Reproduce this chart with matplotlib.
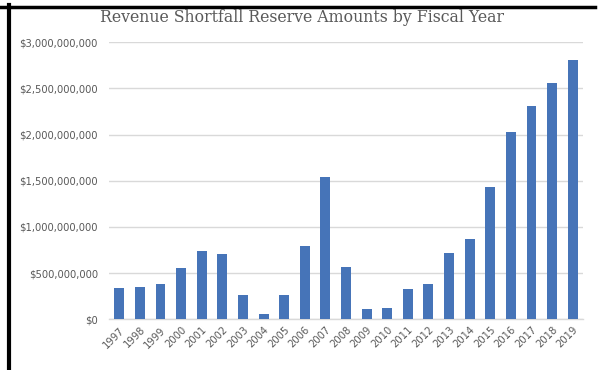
import matplotlib
matplotlib.use("Agg")
import matplotlib.pyplot as plt
from matplotlib.lines import Line2D
from matplotlib.ticker import FuncFormatter, MultipleLocator

# Fiscal years and reserve amounts (dollars)
years = [str(y) for y in range(1997, 2020)]
amounts = [336e6, 353e6, 382e6, 552e6, 736e6, 704e6, 263e6, 54e6, 260e6,
           794e6, 1544e6, 570e6, 108e6, 119e6, 332e6, 382e6, 722e6, 866e6,
           1436e6, 2032e6, 2310e6, 2556e6, 2808e6]

fig = plt.figure(figsize=(6.01, 3.70), dpi=100)
ax = fig.add_axes([109/601, 1 - 319.3/370, (583 - 109)/601, (319.3 - 42.3)/370])

x = range(len(years))
ax.bar(x, amounts, width=0.48, color="#4674B8", zorder=3)

ax.set_xlim(-0.5, len(years) - 0.5)
ax.set_ylim(0, 3e9)
ax.yaxis.set_major_locator(MultipleLocator(5e8))
ax.yaxis.set_major_formatter(FuncFormatter(lambda v, p: "${:,.0f}".format(v)))
ax.grid(axis="y", color="#d9d9d9", linewidth=1.0, zorder=0)

for s in ["top", "right", "left"]:
    ax.spines[s].set_visible(False)
ax.spines["bottom"].set_color("#d9d9d9")
ax.spines["bottom"].set_linewidth(1.0)

ax.set_xticks(list(x))
ax.set_xticklabels(years, rotation=45, ha="right", rotation_mode="anchor")
ax.tick_params(axis="both", length=0, labelsize=7.2, labelcolor="#595959")
ax.tick_params(axis="y", pad=8)
ax.tick_params(axis="x", pad=4)

fig.text(302/601, 1 - 18/370, "Revenue Shortfall Reserve Amounts by Fiscal Year",
         ha="center", va="center", fontsize=11.3, color="#595959",
         family="DejaVu Serif")

# black frame edges from the screenshot
fig.add_artist(Line2D([0, 595/601], [1 - 6.5/370] * 2, color="black", linewidth=2.5))
fig.add_artist(Line2D([9/601] * 2, [0, 1 - 5/370], color="black", linewidth=3))

fig.savefig("out.png", dpi=100)
